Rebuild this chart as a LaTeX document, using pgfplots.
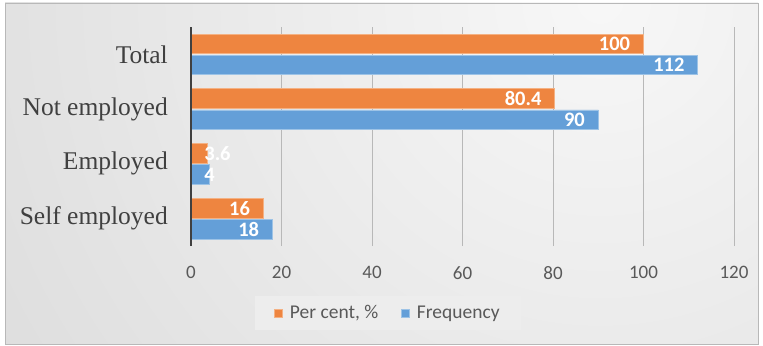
\documentclass[border=0pt]{standalone}
\usepackage{pgfplots}
\pgfplotsset{compat=1.18}
\usepackage{fontspec}
\setmainfont{Liberation Serif}
\newfontfamily\carlito{Carlito}
\definecolor{barorange}{HTML}{EE8540}
\definecolor{barblue}{HTML}{649FD8}
\definecolor{edgeorange}{HTML}{F4B183}
\definecolor{edgeblue}{HTML}{9DC3E6}
\definecolor{ticktext}{HTML}{595959}
\definecolor{cattext}{HTML}{404040}
\pgfplotsset{sqlegend/.style={legend image code/.code={\draw[##1, line width=0.6bp] (0bp,-4bp) rectangle (8bp,4bp);}}}
\begin{document}
\begin{tikzpicture}
\useasboundingbox (0,0) rectangle (763bp,346bp);
\fill[white] (0,0) rectangle (763bp,346bp);
\begin{scope}
\clip (5bp,2bp) rectangle (758bp,343bp);
\shade[inner color=black!3, outer color=black!23] (600bp,346bp) circle (1400bp);
\end{scope}
\draw[black!28, line width=0.75bp] (5bp,2bp) rectangle (758bp,343bp);
\begin{axis}[
  xbar,
  scale only axis,
  width=543bp, height=219bp,
  at={(191bp,100bp)}, anchor=south west,
  xmin=0, xmax=120, ymin=-0.5, ymax=3.5,
  clip=false,
  xtick={0,20,...,120},
  ytick={0,1,2,3},
  yticklabels={Self employed, Employed, Not employed, Total},
  xmajorgrids,
  grid style={draw=black!28, line width=0.75bp},
  axis line style={draw=none},
  major tick length=0pt,
  /pgf/number format/assume math mode=true,
  xticklabel style={font=\carlito\fontsize{19bp}{22bp}\selectfont, text=ticktext, inner sep=0pt, anchor=north, yshift=-20bp},
  yticklabel style={font=\fontsize{25.5bp}{30bp}\selectfont, text=cattext, inner sep=0pt, anchor=east, xshift=-23bp},
  bar width=19.5bp,
  nodes near coords,
  nodes near coords style={font=\carlito\bfseries\fontsize{20.5bp}{22bp}\selectfont, text=white, inner sep=0pt},
  visualization depends on=rawx \as \rawx,
  every node near coord/.append code={%
    \ifdim\rawx pt<10pt
      \pgfkeysalso{anchor=west, xshift={13bp-\rawx*4.525bp}}%
    \else
      \pgfkeysalso{anchor=east, xshift=-13bp}%
    \fi},
  legend columns=2,
  legend style={at={(0.3628,-0.306)}, anchor=center, fill=black!7, draw=none,
    inner xsep=19bp, inner ysep=7.5bp,
    font=\carlito\fontsize{19.5bp}{22bp}\selectfont, text=ticktext,
    /tikz/every odd column/.append style={column sep=5bp},
    /tikz/every even column/.append style={column sep=21bp}},
]
\addplot[fill=barorange, draw=edgeorange, line width=0.75bp, bar shift=10.5bp, sqlegend]
  coordinates {(16,0) (3.6,1) (80.4,2) (100,3)};
\addlegendentry{Per cent, \%}
\addplot[fill=barblue, draw=edgeblue, line width=0.75bp, bar shift=-10.5bp, sqlegend]
  coordinates {(18,0) (4,1) (90,2) (112,3)};
\addlegendentry{Frequency}
\draw[black!75, line width=2.4bp] (axis cs:0,-0.5) -- (axis cs:0,3.5);
\end{axis}
\end{tikzpicture}
\end{document}
